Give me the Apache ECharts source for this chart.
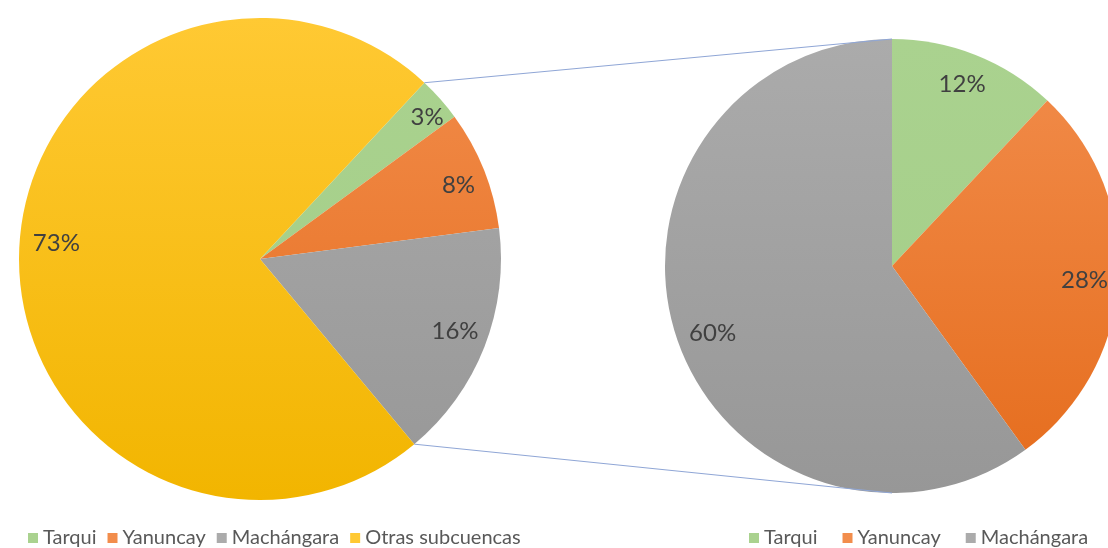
<!DOCTYPE html>
<html><head><meta charset="utf-8">
<script src="https://cdn.jsdelivr.net/npm/echarts@6/dist/echarts.min.js"></script>
<style>html,body{margin:0;padding:0;background:#fff}#c{width:1108px;height:548px}</style>
</head><body><div id="c"></div>
<script>
// ---- data ----
const allNames = ['Tarqui', 'Yanuncay', 'Machángara', 'Otras subcuencas'];
const allValues = [3, 8, 16, 73];
const detailNames = ['Tarqui', 'Yanuncay', 'Machángara'];
const detailValues = [12, 28, 60];

// ---- style ----
const colTop = { 'Tarqui': '#AAD28F', 'Yanuncay': '#F28D4C', 'Machángara': '#ABABAB', 'Otras subcuencas': '#FFC933' };
const colBot = { 'Tarqui': '#A3CE87', 'Yanuncay': '#E56C1C', 'Machángara': '#979797', 'Otras subcuencas': '#F2B500' };
const L = { cx: 260, cy: 259, r: 241, start: 47 };
const R = { cx: 892, cy: 266, r: 227, start: 90 };
const FONT = 'Lato';
const leftLabelOffset = { 'Tarqui': [8, -1], 'Yanuncay': [1, 5], 'Machángara': [-3, -5], 'Otras subcuencas': [9, -10] };
const rightLabelOffset = { 'Tarqui': [-2, 0], 'Yanuncay': [-3, 2], 'Machángara': [7, 7] };

function grad(name, P) {
  return new echarts.graphic.LinearGradient(0, P.cy - P.r, 0, P.cy + P.r,
    [{ offset: 0, color: colTop[name] }, { offset: 1, color: colBot[name] }], true);
}
function pieData(names, values, P) {
  return names.map((n, i) => ({ name: n, value: values[i], itemStyle: { color: grad(n, P) } }));
}
function labelData(names, values, offs) {
  return names.map((n, i) => ({ name: n, value: values[i], label: { offset: offs[n] } }));
}

// connector lines: from left pie boundary of the detailed group to right pie top/bottom
const total = allValues.reduce((a, b) => a + b, 0);
const groupSum = allValues.slice(0, detailNames.length).reduce((a, b) => a + b, 0);
const a0 = L.start * Math.PI / 180;
const a1 = (L.start - 360 * groupSum / total) * Math.PI / 180;
const p0 = [L.cx + L.r * Math.cos(a0), L.cy - L.r * Math.sin(a0)];
const p1 = [L.cx + L.r * Math.cos(a1), L.cy - L.r * Math.sin(a1)];

const labelStyle = {
  show: true, position: 'inside', color: '#404040', fontSize: 24, fontFamily: FONT,
  formatter: p => p.value + '%'
};
const legendText = { color: '#595959', fontSize: 20, fontFamily: FONT };

const chart = echarts.init(document.getElementById('c'), null, { renderer: 'canvas' });
chart.setOption({
  animation: false,
  backgroundColor: '#ffffff',
  legend: [
    { data: allNames, left: 28, top: 528, padding: 0, itemWidth: 10, itemHeight: 10, itemGap: 11, icon: 'rect',
      textStyle: legendText, selectedMode: false },
    { data: detailNames, left: 749, top: 528, padding: 0, itemWidth: 10, itemHeight: 10, itemGap: 25, icon: 'rect',
      textStyle: legendText, selectedMode: false }
  ],
  graphic: [
    { type: 'line', silent: true, z: 10, shape: { x1: p0[0], y1: p0[1], x2: R.cx, y2: R.cy - R.r },
      style: { stroke: '#8FA6D6', lineWidth: 1 } },
    { type: 'line', silent: true, z: 10, shape: { x1: p1[0], y1: p1[1], x2: R.cx, y2: R.cy + R.r },
      style: { stroke: '#8FA6D6', lineWidth: 1 } }
  ],
  series: [
    { type: 'pie', center: [L.cx, L.cy], radius: L.r, startAngle: L.start, clockwise: true,
      label: { show: false }, labelLine: { show: false }, emphasis: { disabled: true },
      data: pieData(allNames, allValues, L) },
    { type: 'pie', center: [L.cx, L.cy], radius: [L.r * 0.74, L.r], startAngle: L.start, clockwise: true,
      silent: true, itemStyle: { color: 'rgba(0,0,0,0)' }, label: labelStyle, labelLine: { show: false },
      emphasis: { disabled: true }, data: labelData(allNames, allValues, leftLabelOffset) },
    { type: 'pie', center: [R.cx, R.cy], radius: R.r, startAngle: R.start, clockwise: true,
      label: { show: false }, labelLine: { show: false }, emphasis: { disabled: true },
      data: pieData(detailNames, detailValues, R) },
    { type: 'pie', center: [R.cx, R.cy], radius: [R.r * 0.7, R.r], startAngle: R.start, clockwise: true,
      silent: true, itemStyle: { color: 'rgba(0,0,0,0)' }, label: labelStyle, labelLine: { show: false },
      emphasis: { disabled: true }, data: labelData(detailNames, detailValues, rightLabelOffset) }
  ]
});
</script></body></html>
